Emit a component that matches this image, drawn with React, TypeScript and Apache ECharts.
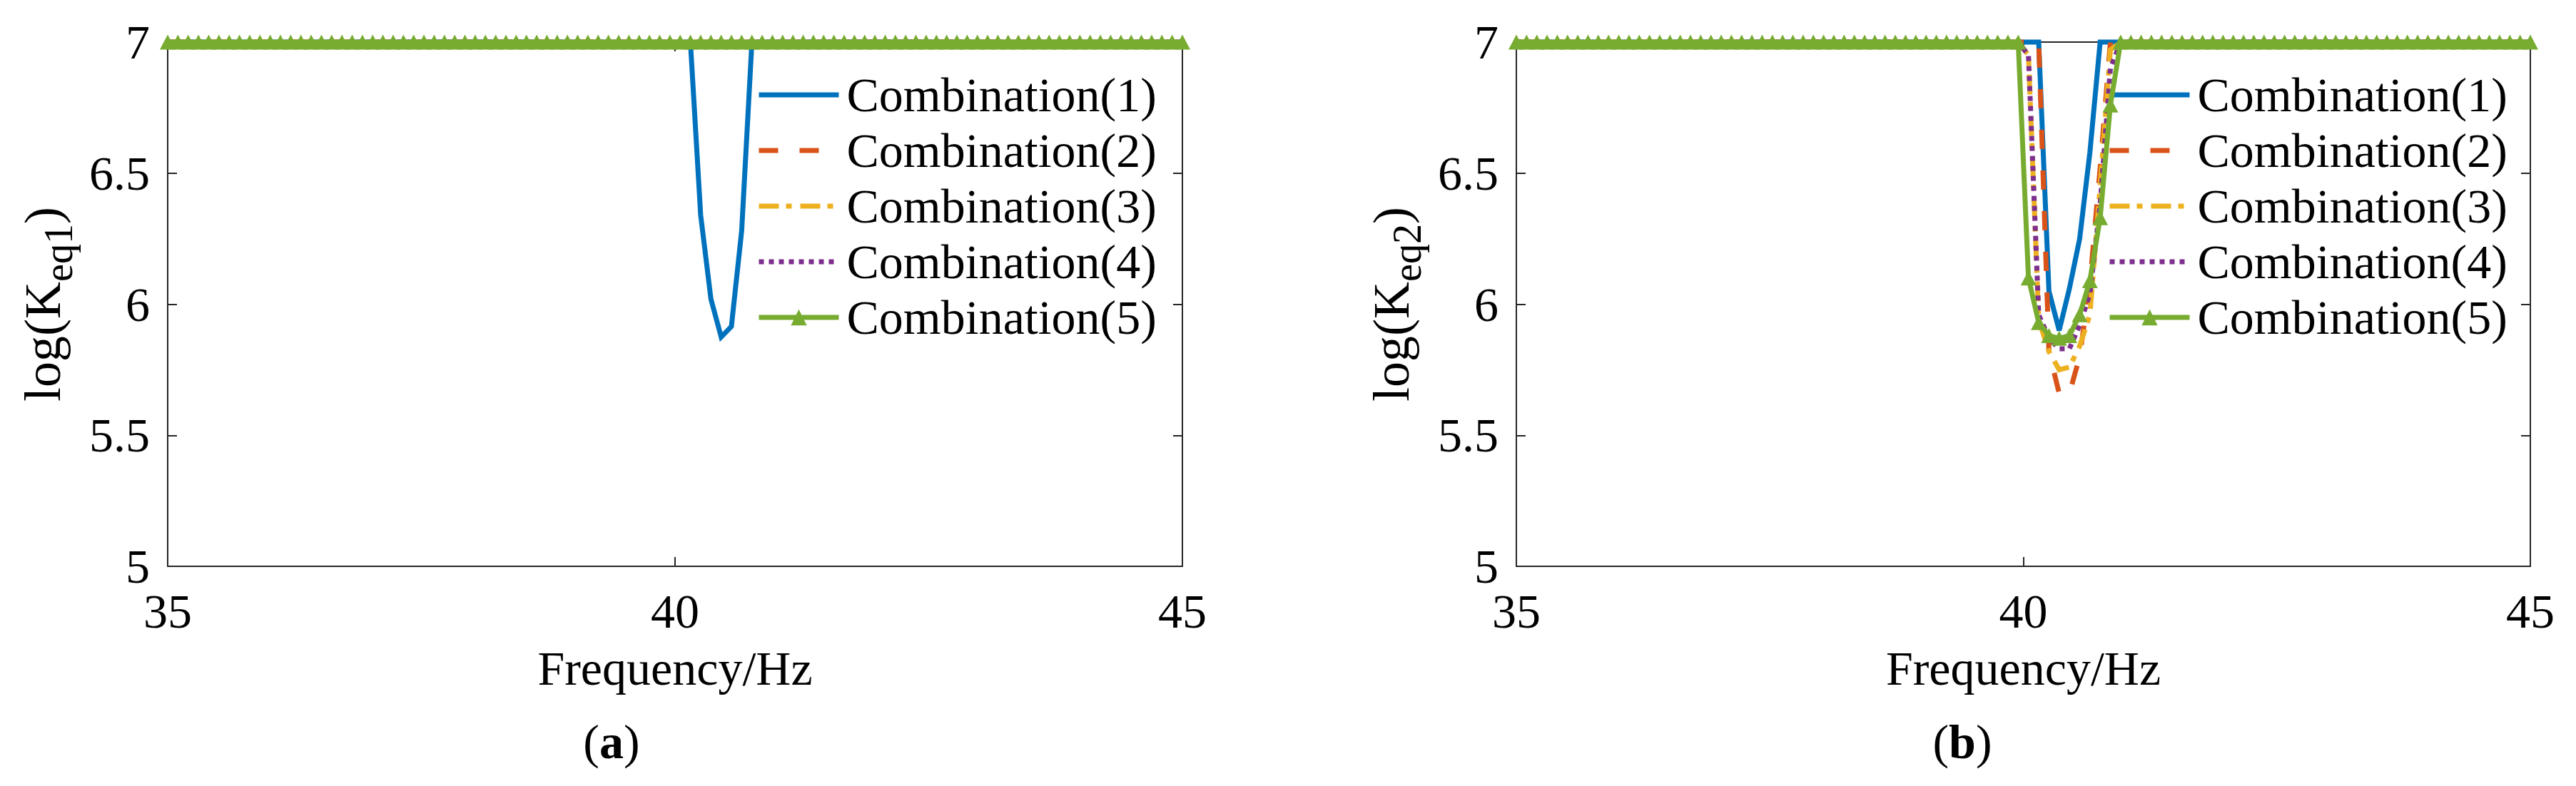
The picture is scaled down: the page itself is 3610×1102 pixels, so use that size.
import React, { useEffect, useRef } from 'react';
import * as echarts from 'echarts';

// ---------------- data ----------------
// Sampling grid of the frequency sweep: 100 points from 35 Hz to 45 Hz
const FREQ_MIN = 35;
const FREQ_MAX = 45;
const N_POINTS = 100;
const frequency: number[] = Array.from(
  { length: N_POINTS },
  (_, i) => FREQ_MIN + (i * (FREQ_MAX - FREQ_MIN)) / (N_POINTS - 1)
);

// Outside the resonance dip every curve sits on the 7 ceiling
const CEILING = 7;
// The dip samples below start at sample index 49 (39.95 Hz) and run to index 59 (40.96 Hz)
const DIP_START = 49;

const seriesNames = [
  'Combination(1)',
  'Combination(2)',
  'Combination(3)',
  'Combination(4)',
  'Combination(5)',
];

// (a) log(K_eq1)
const keq1Comb1 = [7, 7, 7, 6.34, 6.02, 5.875, 5.915, 6.28, 7, 7, 7];
const keq1Comb2 = [7, 7, 7, 7, 7, 7, 7, 7, 7, 7, 7];
const keq1Comb3 = [7, 7, 7, 7, 7, 7, 7, 7, 7, 7, 7];
const keq1Comb4 = [7, 7, 7, 7, 7, 7, 7, 7, 7, 7, 7];
const keq1Comb5 = [7, 7, 7, 7, 7, 7, 7, 7, 7, 7, 7];

// (b) log(K_eq2)
const keq2Comb1 = [7, 7, 7, 6.05, 5.9, 6.06, 6.25, 6.58, 7, 7, 7];
const keq2Comb2 = [7, 7, 7, 5.82, 5.66, 5.66, 5.8, 6.08, 6.52, 7, 7];
const keq2Comb3 = [7, 6.95, 5.94, 5.82, 5.75, 5.76, 5.84, 5.96, 6.45, 6.97, 7];
const keq2Comb4 = [7, 6.95, 5.96, 5.87, 5.83, 5.83, 5.92, 6.04, 6.38, 6.9, 7];
const keq2Comb5 = [7, 6.1, 5.93, 5.88, 5.87, 5.88, 5.96, 6.09, 6.33, 6.76, 7];

const xTicks = { min: 35, max: 45, interval: 5 };
const yTicks = { min: 5, max: 7, interval: 0.5 };

const panels = [
  { sub: 'eq1', caption: 'a', curves: [keq1Comb1, keq1Comb2, keq1Comb3, keq1Comb4, keq1Comb5] },
  { sub: 'eq2', caption: 'b', curves: [keq2Comb1, keq2Comb2, keq2Comb3, keq2Comb4, keq2Comb5] },
];

// ---------------- styling ----------------
const FONT = 'Liberation Serif';
const AXIS = '#262626';
const COLORS = ['#0072BD', '#D95319', '#EDB120', '#7E2F8E', '#77AC30'];
const LINE_TYPES: any[] = ['solid', [27, 30], [28, 10, 8, 12], [7, 7], 'solid'];
const LINE_W = 7;

const gridsLayout = [
  { left: 235, top: 59, width: 1422, height: 735 },
  { left: 2125, top: 59, width: 1421, height: 735 },
];
const legendLeft = [1060, 2953];
const captionX = [857, 2750];

function fullSeries(dip: number[]): number[][] {
  return frequency.map((f, i) => {
    const j = i - DIP_START;
    const v = j >= 0 && j < dip.length ? dip[j] : CEILING;
    return [f, v];
  });
}

function buildOption() {
  const grid: any[] = [];
  const xAxis: any[] = [];
  const yAxis: any[] = [];
  const series: any[] = [];
  const legend: any[] = [];
  const graphic: any[] = [];

  const axisLine = { show: true, onZero: false, lineStyle: { color: AXIS, width: 2 } };
  const axisTick = { show: true, inside: true, length: 13, lineStyle: { color: AXIS, width: 2 } };

  panels.forEach((p, g) => {
    grid.push({ ...gridsLayout[g], containLabel: false, outerBoundsMode: 'none' });

    xAxis.push({
      type: 'value',
      gridIndex: g,
      position: 'bottom',
      ...xTicks,
      axisLine,
      axisTick,
      splitLine: { show: false },
      axisLabel: {
        show: true,
        fontSize: 68,
        fontFamily: FONT,
        color: '#000',
        margin: 29,
        showMinLabel: true,
        showMaxLabel: true,
      },
      name: 'Frequency/Hz',
      nameLocation: 'middle',
      nameGap: 109,
      nameTextStyle: { fontSize: 68, fontFamily: FONT, color: '#000' },
    });
    xAxis.push({
      type: 'value',
      gridIndex: g,
      position: 'top',
      ...xTicks,
      axisLine,
      axisTick,
      splitLine: { show: false },
      axisLabel: { show: false },
    });

    yAxis.push({
      type: 'value',
      gridIndex: g,
      position: 'left',
      ...yTicks,
      axisLine,
      axisTick,
      splitLine: { show: false },
      axisLabel: {
        show: true,
        fontSize: 68,
        fontFamily: FONT,
        color: '#000',
        margin: 25,
        showMinLabel: true,
        showMaxLabel: true,
      },
      name: `{n|log(K}{s|${p.sub}}{n|)}`,
      nameLocation: 'middle',
      nameRotate: 90,
      nameGap: 125,
      nameTextStyle: {
        rich: {
          n: { fontSize: 72, fontFamily: FONT, color: '#000' },
          s: { fontSize: 56, fontFamily: FONT, color: '#000', padding: [45, 0, 0, 0] },
        },
      },
    });
    yAxis.push({
      type: 'value',
      gridIndex: g,
      position: 'right',
      ...yTicks,
      axisLine,
      axisTick,
      splitLine: { show: false },
      axisLabel: { show: false },
    });

    p.curves.forEach((dip, k) => {
      const isMarked = k === 4;
      series.push({
        type: 'line',
        name: seriesNames[k],
        xAxisIndex: g * 2,
        yAxisIndex: g * 2,
        data: fullSeries(dip),
        clip: false,
        showSymbol: isMarked,
        symbol: isMarked ? 'triangle' : 'none',
        symbolSize: [22, 21],
        color: COLORS[k],
        itemStyle: { color: COLORS[k] },
        lineStyle: { color: COLORS[k], width: LINE_W, type: LINE_TYPES[k], cap: 'butt', join: 'miter' },
        emphasis: { disabled: true },
        z: 2 + k,
      });
    });

    legend.push({
      orient: 'vertical',
      left: legendLeft[g],
      top: 98,
      padding: 0,
      itemWidth: 112,
      itemHeight: 28,
      itemGap: 8,
      selectedMode: false,
      backgroundColor: 'transparent',
      lineStyle: { width: LINE_W },
      data: seriesNames.map((n, i) => (i < 4 ? { name: n, itemStyle: { opacity: 0 } } : { name: n })),
      textStyle: { fontSize: 68, fontFamily: FONT, color: '#000', lineHeight: 70, padding: [0, 0, 0, 6] },
    });

    graphic.push({
      type: 'text',
      x: captionX[g],
      y: 1040,
      style: {
        text: `{p|(}{b|${p.caption}}{p|)}`,
        rich: {
          p: { fontSize: 68, fontFamily: FONT, fill: '#000', color: '#000' },
          b: { fontSize: 68, fontFamily: FONT, fontWeight: 'bold', fill: '#000', color: '#000' },
        },
        align: 'center',
        verticalAlign: 'middle',
      },
    });
  });

  return {
    animation: false,
    backgroundColor: '#ffffff',
    textStyle: { fontFamily: FONT },
    grid,
    xAxis,
    yAxis,
    series,
    legend,
    graphic,
  };
}

export default function App() {
  const ref = useRef<HTMLDivElement>(null);
  useEffect(() => {
    if (!ref.current) return;
    const chart = echarts.init(ref.current, undefined, { renderer: 'svg' });
    chart.setOption(buildOption() as any);
    return () => {
      chart.dispose();
    };
  }, []);
  return (
    <div
      ref={ref}
      style={{ position: 'fixed', left: 0, top: 0, width: 3610, height: 1102, background: '#fff' }}
    />
  );
}
